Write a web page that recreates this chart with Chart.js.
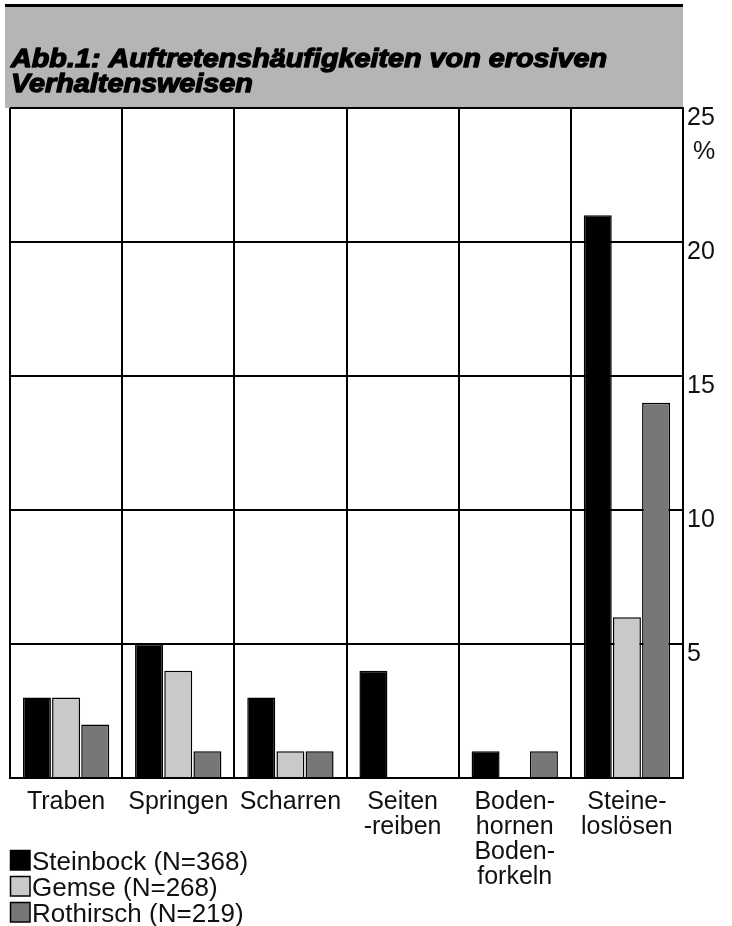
<!DOCTYPE html>
<html>
<head>
<meta charset="utf-8">
<script src="https://cdn.jsdelivr.net/npm/chart.js@4/dist/chart.umd.min.js"></script>
<style>
  html, body { margin: 0; padding: 0; background: #fff; }
  #wrap { width: 732px; height: 926px; }
</style>
</head>
<body>
<div id="wrap"><canvas id="c" width="732" height="926"></canvas></div>
<script>
// Behaviour categories (multi-line labels as printed under the axis)
const categories = [
  ['Traben'],
  ['Springen'],
  ['Scharren'],
  ['Seiten', '-reiben'],
  ['Boden-', 'hornen', 'Boden-', 'forkeln'],
  ['Steine-', 'loslösen']
];

// Frequency of each behaviour in percent
const steinbock = [3, 5, 3, 4, 1, 21];
const gemse     = [3, 4, 1, 0, 0, 6];
const rothirsch = [2, 1, 1, 0, 1, 14];

const seriesLabels = ['Steinbock (N=368)', 'Gemse (N=268)', 'Rothirsch (N=219)'];
const yTicks = [0, 5, 10, 15, 20, 25];

const titleLines = [
  'Abb.1: Auftretenshäufigkeiten von erosiven',
  'Verhaltensweisen'
];

const FONT = '"Liberation Sans", Arial, Helvetica, sans-serif';
const INK = '#111';

// Grey title banner with heavy oblique caption
const titleBanner = {
  id: 'titleBanner',
  beforeDraw(chart) {
    const ctx = chart.ctx;
    const right = chart.chartArea.right;
    const top = chart.chartArea.top;
    ctx.save();
    ctx.fillStyle = '#b5b5b5';
    ctx.fillRect(5, 6, right - 5, top - 6);
    ctx.fillStyle = '#000';
    ctx.fillRect(5, 4, right - 5, 3);
    ctx.font = 'italic bold 25px ' + FONT;
    ctx.textBaseline = 'alphabetic';
    const w = ctx.measureText(titleLines[0]).width;
    const sx = 596 / w;
    ctx.lineWidth = 1.3;
    ctx.lineJoin = 'round';
    ctx.strokeStyle = '#000';
    ctx.fillStyle = '#000';
    [67, 92].forEach((yb, i) => {
      ctx.save();
      ctx.translate(11, yb);
      ctx.scale(sx, 1);
      ctx.fillText(titleLines[i], 0, 0);
      ctx.strokeText(titleLines[i], 0, 0);
      ctx.restore();
    });
    ctx.restore();
  }
};

// "%" unit under the top tick and the stacked legend in the lower left
const extras = {
  id: 'extras',
  afterDraw(chart) {
    const ctx = chart.ctx;
    const y = chart.scales.y;
    ctx.save();
    ctx.font = '25px ' + FONT;
    ctx.fillStyle = INK;
    ctx.textBaseline = 'alphabetic';
    ctx.textAlign = 'left';
    ctx.fillText('%', chart.chartArea.right + 10, y.getPixelForValue(25) + 51);

    ctx.font = '26px ' + FONT;
    chart.data.datasets.forEach((ds, i) => {
      const yb = 870 + i * 26;
      ctx.fillStyle = ds.backgroundColor;
      ctx.fillRect(10.5, yb - 19.5, 19.5, 19.5);
      ctx.strokeStyle = '#000';
      ctx.lineWidth = 1.5;
      ctx.strokeRect(10.5, yb - 19.5, 19.5, 19.5);
      ctx.fillStyle = INK;
      ctx.fillText(ds.label, 32, yb);
    });
    ctx.restore();
  }
};

const barStyle = {
  borderColor: '#000',
  borderWidth: 1.5,
  categoryPercentage: 0.78,
  barPercentage: 0.96
};

new Chart(document.getElementById('c'), {
  type: 'bar',
  data: {
    labels: categories,
    datasets: [
      Object.assign({ label: seriesLabels[0], data: steinbock, backgroundColor: '#000000' }, barStyle),
      Object.assign({ label: seriesLabels[1], data: gemse, backgroundColor: '#c9c9c9' }, barStyle),
      Object.assign({ label: seriesLabels[2], data: rothirsch, backgroundColor: '#777777' }, barStyle)
    ]
  },
  options: {
    responsive: false,
    animation: false,
    devicePixelRatio: 1,
    layout: { padding: { left: 10, top: 108, right: 0, bottom: 0 } },
    plugins: {
      legend: { display: false },
      title: { display: false },
      tooltip: { enabled: false }
    },
    scales: {
      x: {
        offset: true,
        grid: { color: '#000', lineWidth: 2, drawTicks: false, offset: true },
        border: { color: '#000', width: 2 },
        ticks: {
          color: INK,
          font: { family: FONT, size: 25, lineHeight: 1.0 },
          padding: 12,
          maxRotation: 0,
          autoSkip: false
        },
        afterFit(scale) { scale.height = 926 - 778; }
      },
      y: {
        position: 'right',
        min: yTicks[0],
        max: yTicks[yTicks.length - 1],
        afterBuildTicks(scale) { scale.ticks = yTicks.map(v => ({ value: v })); },
        grid: { color: '#000', lineWidth: 2, drawTicks: false },
        border: { color: '#000', width: 2 },
        ticks: {
          color: INK,
          font: { family: FONT, size: 25 },
          padding: 4,
          labelOffset: 10,
          callback: v => (v === 0 ? '' : String(v))
        },
        afterFit(scale) { scale.width = 732 - 683; }
      }
    }
  },
  plugins: [titleBanner, extras]
});
</script>
</body>
</html>
